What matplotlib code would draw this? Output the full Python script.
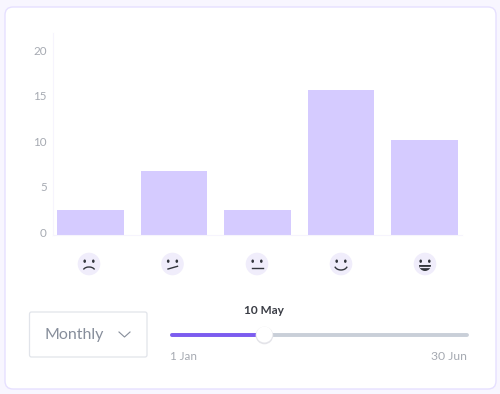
import matplotlib
matplotlib.use("Agg")
import matplotlib.pyplot as plt
import matplotlib.transforms as mtrans
from matplotlib.patches import Circle, Ellipse, FancyBboxPatch, Arc, Wedge

plt.rcParams["font.family"] = ["Lato", "DejaVu Sans"]

moods = ["sad", "unsure", "neutral", "happy", "very happy"]
counts = [2.7, 7.0, 2.7, 15.8, 10.4]
y_ticks = [0, 5, 10, 15, 20]
period = "Monthly"
slider_start = "1 Jan"
slider_end = "30 Jun"
slider_value = "10 May"
slider_fraction = 0.315

W, H = 500, 394
BAR_COLOR = "#D5CBFF"
TEXT_GRAY = "#A6AAB2"
FACE = "#33363D"
FACE_BG = "#F0EDFB"


def draw_face(ax, cx, cy, mood):
    ax.add_patch(Circle((cx, cy), 11.3, fc=FACE_BG, ec="none"))
    ax.add_patch(Ellipse((cx - 4.3, cy - 2.8), 2.6, 3.4, fc=FACE, ec="none"))
    ax.add_patch(Ellipse((cx + 4.3, cy - 2.8), 2.6, 3.4, fc=FACE, ec="none"))
    if mood == "sad":
        ax.add_patch(Arc((cx, cy + 7), 12, 8, theta1=195, theta2=345, color=FACE, lw=1.0))
    elif mood == "unsure":
        ax.plot([cx - 4.5, cx + 5], [cy + 5, cy + 2.3], color=FACE, lw=1.0)
    elif mood == "neutral":
        ax.plot([cx - 5.5, cx + 5.5], [cy + 3.5, cy + 3.5], color=FACE, lw=1.0)
    elif mood == "happy":
        ax.add_patch(Arc((cx, cy + 1), 13, 10, theta1=15, theta2=165, color=FACE, lw=1.0))
    else:
        # y axis is inverted, so this half disc opens downward on screen
        ax.add_patch(Wedge((cx, cy + 1), 6, 0, 180, fc=FACE, ec="none"))
        ax.plot([cx - 5, cx + 5], [cy + 3, cy + 3], color=FACE_BG, lw=0.9, zorder=3)


fig = plt.figure(figsize=(W / 100, H / 100), dpi=100, facecolor="#F8F6FF")

# page layer in pixel coordinates
ui = fig.add_axes([0, 0, 1, 1])
ui.set_xlim(0, W)
ui.set_ylim(H, 0)
ui.axis("off")

ui.add_patch(FancyBboxPatch((5, 7), 491, 382, boxstyle="round,pad=0,rounding_size=8",
                            fc="white", ec="#E6E0FF", lw=1.0))

# emoji row under the bars
face_x = [89, 172.5, 257, 341, 425]
for x, mood in zip(face_x, moods):
    draw_face(ui, x, 264, mood)

# dropdown
ui.add_patch(FancyBboxPatch((29.5, 312), 117.5, 45, boxstyle="round,pad=0,rounding_size=2",
                            fc="white", ec="#E1E4EA", lw=0.9))
ui.text(45, 334.5, period, fontsize=11.5, color="#878E9B", va="center", ha="left")
ui.plot([119, 124.5, 130], [332, 337, 332], color="#878E9B", lw=0.8)

# slider
x0, x1, track_y = 171.5, 466.5, 334.5
thumb_x = x0 + slider_fraction * (x1 - x0)
ui.plot([x0, x1], [track_y, track_y], color="#C9CFD8", lw=2.8, solid_capstyle="round")
ui.plot([x0, thumb_x], [track_y, track_y], color="#7C5CF0", lw=2.8, solid_capstyle="round")
ui.add_patch(Circle((thumb_x, track_y + 1), 8.8, fc="#E4E4E9", ec="none", zorder=3))
ui.add_patch(Circle((thumb_x, track_y), 8.0, fc="white", ec="none", zorder=4))
ui.text(thumb_x, 310, slider_value, fontsize=8.6, fontweight="bold", color="#3A3D45", ha="center", va="center")
ui.text(170, 356, slider_start, fontsize=8.4, color=TEXT_GRAY, ha="left", va="center")
ui.text(467, 356, slider_end, fontsize=8.8, color=TEXT_GRAY, ha="right", va="center")

# bar chart
ax = fig.add_axes([53 / W, 1 - 234.5 / H, (462 - 53) / W, (234.5 - 33) / H])
ax.patch.set_alpha(0)
ax.bar(range(len(counts)), counts, width=0.8, color=BAR_COLOR)
ax.set_xlim(-0.449, 4.449)
ax.set_ylim(0, 22.1)
ax.set_xticks([])
ax.set_yticks(y_ticks)
ax.tick_params(axis="y", length=0, pad=4.5, labelsize=8.4, labelcolor=TEXT_GRAY)
lift = mtrans.ScaledTranslation(0, 2 / 100, fig.dpi_scale_trans)
for label in ax.get_yticklabels():
    label.set_transform(label.get_transform() + lift)
for side in ["top", "right"]:
    ax.spines[side].set_visible(False)
for side in ["left", "bottom"]:
    ax.spines[side].set_color("#F6F4FD")

fig.savefig("out.png", dpi=100, facecolor=fig.get_facecolor())
